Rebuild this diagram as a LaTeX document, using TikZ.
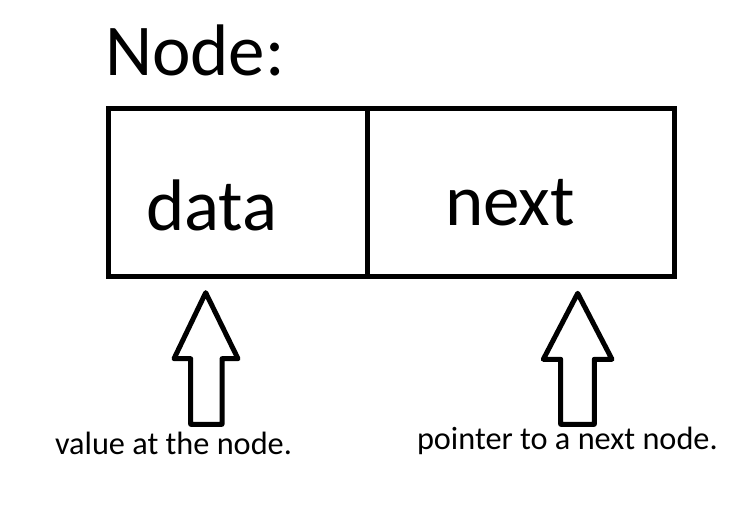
\documentclass[tikz,border=0pt]{standalone}
\usepackage{fontspec}
\setmainfont{Carlito}
\begin{document}
\begin{tikzpicture}[x=1pt,y=-1pt,
  cell/.style={draw=black,line width=5pt,minimum height=168pt,inner sep=0pt,outer sep=0pt,anchor=north west},
  big/.style={font=\fontsize{73}{86}\selectfont,inner sep=0pt,outer sep=0pt,anchor=base west},
  small/.style={font=\fontsize{32.3}{39}\selectfont,inner sep=0pt,outer sep=0pt,anchor=base west},
  uparrow/.style={draw=black,line width=5pt,line join=round}]
\useasboundingbox (0,0) rectangle (750,511);
\node[big] (title) at (105,75) {Node:};
\node[cell,minimum width=259pt] (datacell) at (108.5,108.5) {};
\node[cell,minimum width=307pt] (nextcell) at (367.5,108.5) {};
\node[big] (datatxt) at (146,230) {data};
\node[big] (nexttxt) at (445,225) {next};
\draw[uparrow] (205.7,292.7) -- (238,358.7) -- (222,358.7) -- (222,424.3) -- (190.7,424.3) -- (190.7,358.7) -- (174,358.7) -- cycle;
\draw[uparrow] (577.7,293.3) -- (612,359.3) -- (594.3,359.3) -- (594.3,424.3) -- (560.7,424.3) -- (560.7,359.3) -- (543.3,359.3) -- cycle;
\node[small] (valtxt) at (55,454) {value at the node.};
\node[small] (ptrtxt) at (417,449.5) {pointer to a next node.};
\end{tikzpicture}
\end{document}
